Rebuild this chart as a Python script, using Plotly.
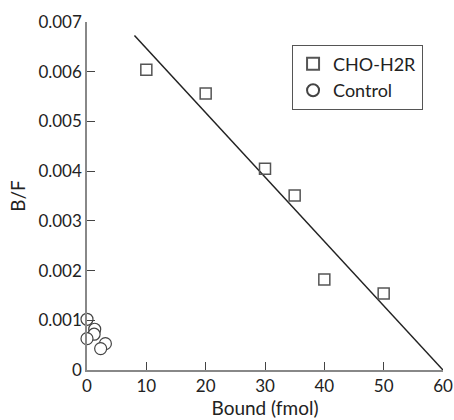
import plotly.graph_objects as go

# CHO-H2R data
cho_x = [10, 20, 30, 35, 40, 50]
cho_y = [0.00604, 0.00556, 0.00405, 0.00351, 0.00182, 0.00154]

# Control data
ctrl_x = [0, 1.3, 1.2, 0, 3.1, 2.3]
ctrl_y = [0.00102, 0.00082, 0.00072, 0.00063, 0.00053, 0.00043]

# Regression line endpoints
line_x = [8, 60]
line_y = [0.00673, 0.0]

x_ticks = [0, 10, 20, 30, 40, 50, 60]
y_ticks = [0, 0.001, 0.002, 0.003, 0.004, 0.005, 0.006, 0.007]
y_ticklabels = ["0", "0.001", "0.002", "0.003", "0.004", "0.005", "0.006", "0.007"]

FONT = "Lato, 'Open Sans', sans-serif"

fig = go.Figure()
fig.add_trace(go.Scatter(x=line_x, y=line_y, mode="lines",
                         line=dict(color="#222222", width=1.5),
                         showlegend=False, hoverinfo="skip"))
fig.add_trace(go.Scatter(x=cho_x, y=cho_y, mode="markers", name="CHO-H2R",
                         marker=dict(symbol="square-open", size=11,
                                     color="#555555", line=dict(width=1.5)),
                         cliponaxis=False))
fig.add_trace(go.Scatter(x=ctrl_x, y=ctrl_y, mode="markers", name="Control",
                         marker=dict(symbol="circle", size=12,
                                     color="white",
                                     line=dict(color="#444444", width=1.2)),
                         cliponaxis=False))

fig.update_layout(
    width=454, height=420,
    margin=dict(l=87, r=11, t=22, b=50),
    paper_bgcolor="white", plot_bgcolor="white",
    font=dict(family=FONT, size=17, color="#222222"),
    showlegend=True,
    legend=dict(x=0.576, y=0.935, xanchor="left", yanchor="top",
                bordercolor="#555555", borderwidth=1, bgcolor="white",
                font=dict(size=18), itemsizing="constant", itemwidth=30,
                tracegroupgap=0),
    xaxis=dict(range=[0, 60], tickvals=x_ticks, ticks="inside", ticklen=8,
               tickcolor="#444444", showline=True, linecolor="#888888",
               linewidth=1.5, showgrid=False, zeroline=False,
               automargin=False, tickfont=dict(size=17),
               title=dict(text="Bound (fmol)", standoff=5,
                          font=dict(size=19))),
    yaxis=dict(range=[0, 0.007], tickvals=y_ticks, ticktext=y_ticklabels,
               ticks="inside", ticklen=8, tickcolor="#444444",
               showline=True, linecolor="#888888", linewidth=1.5,
               showgrid=False, zeroline=False, automargin=False,
               tickfont=dict(size=17),
               title=dict(text="B/F", standoff=8, font=dict(size=19))),
)

fig.write_html("out.html",
               config={"displayModeBar": False},
               post_script="document.body.style.margin='0';document.body.style.overflow='hidden';")
